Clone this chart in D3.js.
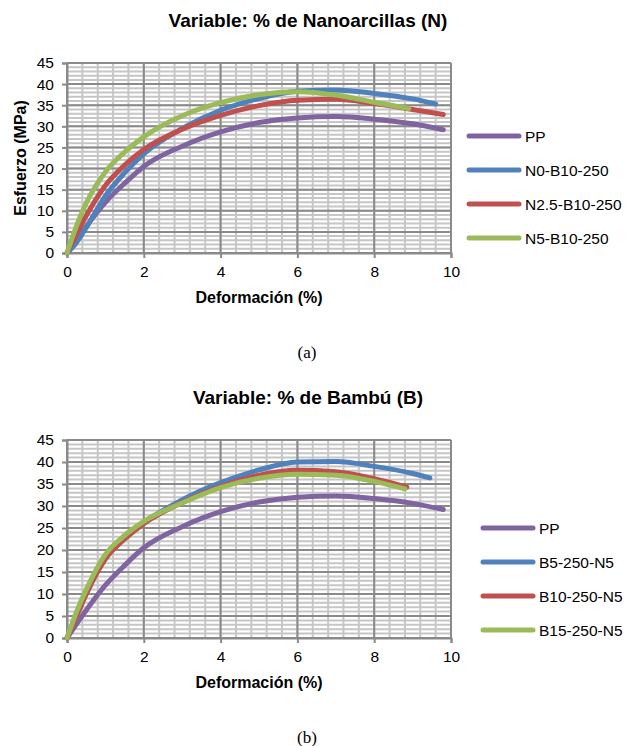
<!DOCTYPE html>
<html>
<head>
<meta charset="utf-8">
<script src="https://cdn.jsdelivr.net/npm/d3@7"></script>
<style>
  body { margin: 0; background: #fff; }
  text { font-family: "Liberation Sans", Arial, sans-serif; fill: #000; }
</style>
</head>
<body>
<div id="chart"></div>
<script>
// Datos (deformación %, esfuerzo MPa)
const ppStrain = [0, 0.25, 0.5, 1, 1.5, 2, 3, 4, 5, 6, 7, 8, 9, 9.8];
const ppStress = [0, 3.2, 6.3, 12, 16.5, 20.5, 25.3, 28.7, 30.9, 32.0, 32.3, 31.7, 30.6, 29.2];

const n0Strain = [0, 0.25, 0.5, 1, 1.5, 2, 3, 4, 5, 6, 7, 8, 9, 9.6];
const n0Stress = [0, 2.5, 6, 13.5, 19, 23.5, 29.5, 33.8, 36.6, 38.3, 38.6, 37.8, 36.5, 35.3];

const n25Strain = [0, 0.25, 0.5, 1, 1.5, 2, 3, 4, 5, 6, 7, 8, 9, 9.8];
const n25Stress = [0, 4.5, 8.8, 16, 20.8, 24.5, 29.3, 32.6, 34.9, 36.2, 36.4, 35.4, 34.0, 32.8];

const n5Strain = [0, 0.25, 0.5, 1, 1.5, 2, 3, 4, 5, 6, 7, 8, 8.9];
const n5Stress = [0, 6.5, 11.8, 19.2, 23.9, 27.5, 32.5, 35.6, 37.5, 38.2, 37.4, 35.7, 34.2];

const b5Strain = [0, 0.25, 0.5, 1, 1.5, 2, 3, 4, 5, 6, 7, 8, 9, 9.45];
const b5Stress = [0, 5, 10, 18, 22.6, 26.2, 31.4, 35.3, 38.2, 40, 40.1, 39, 37.4, 36.4];

const b10Strain = [0, 0.25, 0.5, 1, 1.5, 2, 3, 4, 5, 6, 7, 8, 8.85];
const b10Stress = [0, 5, 10, 18, 22.5, 26, 30.8, 34.4, 37, 38.1, 37.8, 36.2, 34.3];

const b15Strain = [0, 0.25, 0.5, 1, 1.5, 2, 3, 4, 5, 6, 7, 8, 8.8];
const b15Stress = [0, 6, 11, 19, 23.3, 26.5, 30.7, 34.2, 36.3, 37.2, 37, 35.6, 33.9];

const namesA = ["PP", "N0-B10-250", "N2.5-B10-250", "N5-B10-250"];
const namesB = ["PP", "B5-250-N5", "B10-250-N5", "B15-250-N5"];
const colors = ["#8064a2", "#4f81bd", "#c0504d", "#9bbb59"];

const xTicks = [0, 2, 4, 6, 8, 10];
const yTicks = [0, 5, 10, 15, 20, 25, 30, 35, 40, 45];

const svg = d3.select("#chart").append("svg")
    .attr("width", 628)
    .attr("height", 746);

function drawChart(cfg) {
    const g = svg.append("g");
    const x = d3.scaleLinear().domain([0, 10]).range([67, 451]);
    const y = d3.scaleLinear().domain([0, 45]).range([cfg.bottom, cfg.top]);

    // rejilla secundaria
    const minorX = d3.range(0, 10.001, 0.4);
    const minorY = d3.range(0, 45.001, 1);
    g.append("g").selectAll("line").data(minorY).join("line")
        .attr("x1", 67).attr("x2", 451)
        .attr("y1", d => y(d)).attr("y2", d => y(d))
        .attr("stroke", "#c6c6c6").attr("stroke-width", 2);
    g.append("g").selectAll("line").data(minorX).join("line")
        .attr("x1", d => x(d)).attr("x2", d => x(d))
        .attr("y1", cfg.top).attr("y2", cfg.bottom)
        .attr("stroke", "#c6c6c6").attr("stroke-width", 2);

    // rejilla principal
    g.append("g").selectAll("line").data(yTicks).join("line")
        .attr("x1", 67).attr("x2", 451)
        .attr("y1", d => y(d)).attr("y2", d => y(d))
        .attr("stroke", "#8a8a8a").attr("stroke-width", 2);
    g.append("g").selectAll("line").data(xTicks).join("line")
        .attr("x1", d => x(d)).attr("x2", d => x(d))
        .attr("y1", cfg.top).attr("y2", cfg.bottom)
        .attr("stroke", "#8a8a8a").attr("stroke-width", 2);

    // ejes
    const yAxis = g.append("g")
        .attr("transform", "translate(67,0)")
        .call(d3.axisLeft(y).tickValues(yTicks).tickSize(5).tickPadding(8));
    const xAxis = g.append("g")
        .attr("transform", `translate(0,${cfg.bottom})`)
        .call(d3.axisBottom(x).tickValues(xTicks).tickSize(5).tickPadding(8));
    [xAxis, yAxis].forEach(a => {
        a.select(".domain").attr("stroke", "#8a8a8a").attr("stroke-width", 2);
        a.selectAll(".tick line").attr("stroke", "#8a8a8a").attr("stroke-width", 2);
        a.selectAll("text").attr("font-size", "15.5px")
            .attr("font-family", "Liberation Sans, Arial, sans-serif").attr("fill", "#000");
    });

    // curvas
    const line = d3.line()
        .x(d => x(d[0]))
        .y(d => y(d[1]))
        .curve(d3.curveMonotoneX);
    cfg.series.forEach((s, i) => {
        g.append("path")
            .datum(d3.zip(s[0], s[1]))
            .attr("d", line)
            .attr("fill", "none")
            .attr("stroke", colors[i])
            .attr("stroke-width", 5)
            .attr("stroke-linecap", "round")
            .attr("stroke-linejoin", "round");
    });

    // títulos
    g.append("text")
        .attr("x", 308).attr("y", cfg.top - 36)
        .attr("text-anchor", "middle")
        .attr("font-size", "19px").attr("font-weight", "bold")
        .text(cfg.title);
    g.append("text")
        .attr("x", 259).attr("y", cfg.bottom + 50)
        .attr("text-anchor", "middle")
        .attr("font-size", "16px").attr("font-weight", "bold")
        .text("Deformación (%)");
    g.append("text")
        .attr("transform", `translate(26,${(cfg.top + cfg.bottom) / 2}) rotate(-90)`)
        .attr("text-anchor", "middle")
        .attr("font-size", "16px").attr("font-weight", "bold")
        .text(cfg.yLabel);
    g.append("text")
        .attr("x", 307).attr("y", cfg.bottom + 105)
        .attr("text-anchor", "middle")
        .attr("font-size", "17px")
        .style("font-family", "Liberation Serif, Times New Roman, serif")
        .text(cfg.caption);

    // leyenda
    const leg = g.append("g").selectAll("g").data(cfg.names).join("g")
        .attr("transform", (d, i) => `translate(${cfg.legX},${cfg.legY + i * 34})`);
    leg.append("line")
        .attr("x1", 2).attr("x2", 52)
        .attr("stroke", (d, i) => colors[i])
        .attr("stroke-width", 5)
        .attr("stroke-linecap", "round");
    leg.append("text")
        .attr("x", 58).attr("y", 5.5)
        .attr("font-size", "15.5px")
        .text(d => d);
}

drawChart({
    top: 63, bottom: 253,
    title: "Variable: % de Nanoarcillas (N)",
    yLabel: "Esfuerzo (MPa)",
    caption: "(a)",
    names: namesA,
    legX: 467, legY: 136,
    series: [[ppStrain, ppStress], [n0Strain, n0Stress], [n25Strain, n25Stress], [n5Strain, n5Stress]]
});

drawChart({
    top: 440, bottom: 638,
    title: "Variable: % de Bambú (B)",
    yLabel: "",
    caption: "(b)",
    names: namesB,
    legX: 481, legY: 528,
    series: [[ppStrain, ppStress], [b5Strain, b5Stress], [b10Strain, b10Stress], [b15Strain, b15Stress]]
});
</script>
</body>
</html>
